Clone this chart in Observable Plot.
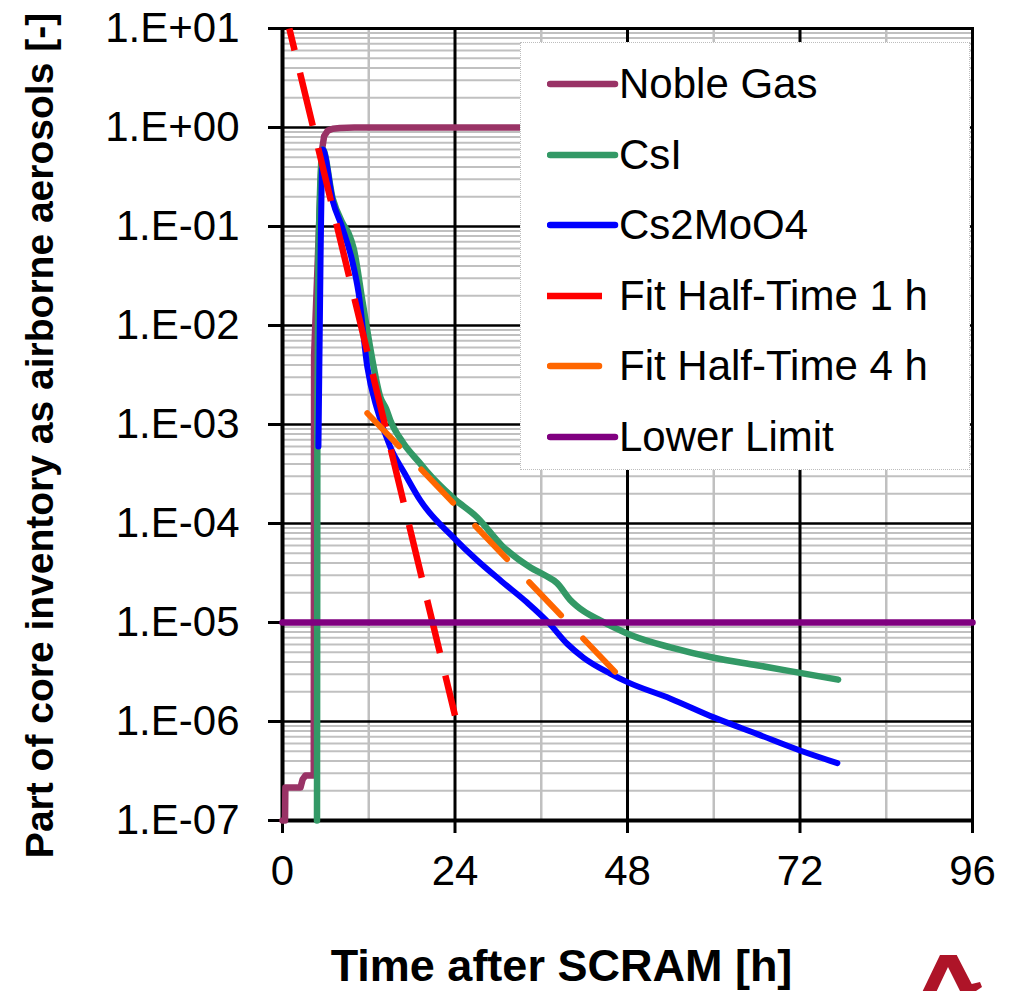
<!DOCTYPE html>
<html>
<head>
<meta charset="utf-8">
<script src="https://cdn.jsdelivr.net/npm/d3@7"></script>
<script src="https://cdn.jsdelivr.net/npm/@observablehq/plot@0.6"></script>
<style>
  html, body { margin: 0; padding: 0; background: #fff; }
  #wrap { position: relative; width: 1013px; height: 991px; overflow: hidden;
          font-family: "Liberation Sans", Arial, sans-serif; }
  #legend { position: absolute; left: 520px; top: 42px; width: 450px; height: 428px;
            background: #fff; border: 1px dotted #bdbdbd; box-sizing: border-box; }
  .item { position: absolute; left: 0; height: 50px; width: 440px; }
  .item svg { position: absolute; left: 26px; top: 20px; }
  .item span { position: absolute; left: 98px; top: 0; font-size: 42px; line-height: 50px;
               color: #000; white-space: nowrap; }
  #logo { position: absolute; left: 0; top: 0; pointer-events: none; }
</style>
</head>
<body>
<div id="wrap">
  <div id="chart"></div>
  <div id="legend"></div>
  <svg id="logo" width="1013" height="991">
    <polygon fill="#ae1428" points="922.7,991 940,955 956.7,955 971.7,984 980,982 982,987 976,991 960,991 948,967 936.7,991"/>
  </svg>
</div>
<script>
// ---- axis ticks / labels ----
const xTicks = [0, 24, 48, 72, 96];
const xMajorGrid = [24, 48, 72];
const xMinorGrid = [12, 36, 60, 84];
const yTicks = [1e-7, 1e-6, 1e-5, 1e-4, 1e-3, 1e-2, 1e-1, 1, 10];
const yTickLabels = ["1.E-07", "1.E-06", "1.E-05", "1.E-04", "1.E-03", "1.E-02", "1.E-01", "1.E+00", "1.E+01"];
const yMajorGrid = [1e-6, 1e-5, 1e-4, 1e-3, 1e-2, 1e-1, 1];
const xTitle = "Time after SCRAM [h]";
const yTitle = "Part of core inventory as airborne aerosols [-]";

// ---- series ----
const seriesNames = ["Noble Gas", "CsI", "Cs2MoO4", "Fit Half-Time 1 h", "Fit Half-Time 4 h", "Lower Limit"];
const seriesColors = ["#993366", "#339966", "#0000ff", "#ff0000", "#ff6600", "#800080"];

const nobleT = [0, 0.35, 0.4, 2.5, 2.8, 3.2, 4.35, 4.4, 5.5, 5.8, 6.3, 7.0, 8.0, 10.0, 24, 48, 77];
const nobleV = [1e-7, 1e-7, 2.15e-7, 2.15e-7, 2.6e-7, 2.85e-7, 2.85e-7, 5e-3, 0.6, 0.82, 0.93, 0.97, 0.99, 1.0, 1.0, 1.0, 1.0];

const csiT = [4.8, 4.85, 5.0, 5.6, 7.0, 8.3, 9.2, 9.9, 11.1, 11.5, 12.5, 13.6, 14.4, 15.0, 16.8, 19.2, 20.0, 23.8, 27.1, 30.5, 34.5, 36.5, 38.2, 40.0, 41.9, 44.2, 48.8, 54, 60, 66, 72, 77.3];
const csiV = [1e-7, 1e-3, 0.05, 0.6, 0.19, 0.11, 0.085, 0.06, 0.018, 0.012, 4.5e-3, 1.9e-3, 1.45e-3, 1.1e-3, 6.5e-4, 4.0e-4, 3.4e-4, 1.8e-4, 1.15e-4, 6.0e-5, 3.6e-5, 3.0e-5, 2.5e-5, 1.7e-5, 1.3e-5, 1.05e-5, 7.3e-6, 5.6e-6, 4.4e-6, 3.7e-6, 3.1e-6, 2.65e-6];

const csmoT = [5.0, 5.3, 5.6, 7.0, 8.3, 9.7, 10.6, 11.8, 13.2, 15.0, 17.0, 19.2, 23.8, 27.0, 30.5, 34.0, 37.0, 39.6, 41.9, 45.6, 48.0, 54, 60, 66, 72, 77.2];
const csmoV = [6e-4, 0.05, 0.6, 0.18, 0.098, 0.045, 0.021, 3.8e-3, 1.4e-3, 5.9e-4, 3.2e-4, 1.7e-4, 7.2e-5, 4.3e-5, 2.6e-5, 1.6e-5, 1.0e-5, 6.1e-6, 4.4e-6, 3.05e-6, 2.5e-6, 1.7e-6, 1.1e-6, 7.5e-7, 5.1e-7, 3.8e-7];

const fit1T = [0.95, 24];
const fit1V = [10, 1.15e-6];

const fit4T = [11.8, 46.6];
const fit4V = [1.3e-3, 3.0e-6];

const limitT = [0, 96];
const limitV = [1e-5, 1e-5];

const rows = (t, v) => t.map((x, i) => ({t: x, v: v[i]}));

// minor grid positions (2..9 of each decade)
const yMinorGrid = d3.range(-7, 1).flatMap(e => d3.range(2, 10).map(m => m * Math.pow(10, e)));

const plot = Plot.plot({
  width: 1013,
  height: 991,
  marginTop: 28,
  marginRight: 41,
  marginBottom: 171,
  marginLeft: 282,
  style: {fontFamily: "Liberation Sans, Arial, sans-serif", fontSize: "42px", background: "white", color: "black"},
  x: {domain: [0, 96]},
  y: {type: "log", domain: [1e-7, 10]},
  marks: [
    Plot.ruleY(yMinorGrid, {stroke: "#c0c0c0", strokeWidth: 2}),
    Plot.ruleX(xMinorGrid, {stroke: "#c0c0c0", strokeWidth: 2.5}),
    Plot.ruleY(yMajorGrid, {stroke: "black", strokeWidth: 2.5}),
    Plot.ruleX(xMajorGrid, {stroke: "black", strokeWidth: 3}),
    Plot.frame({stroke: "black", strokeWidth: 3}),
    Plot.ruleX([0], {stroke: "black", strokeWidth: 4}),
    Plot.ruleY([1e-7], {stroke: "black", strokeWidth: 4}),
    Plot.axisY({ticks: yTicks, tickFormat: d => yTickLabels[yTicks.indexOf(d)], tickSize: 14, tickPadding: 29,
                fontSize: 42, strokeWidth: 3, label: null}),
    Plot.axisX({ticks: xTicks, tickFormat: d => String(d), tickSize: 13, tickPadding: 22,
                fontSize: 42, strokeWidth: 3, label: null}),
    Plot.line(rows(nobleT, nobleV), {x: "t", y: "v", stroke: seriesColors[0], strokeWidth: 6.5, strokeLinejoin: "round", strokeLinecap: "round"}),
    Plot.line(rows(csiT, csiV), {x: "t", y: "v", stroke: seriesColors[1], strokeWidth: 6.5, strokeLinejoin: "round", strokeLinecap: "round", curve: "monotone-x"}),
    Plot.line(rows(csmoT, csmoV), {x: "t", y: "v", stroke: seriesColors[2], strokeWidth: 6, strokeLinejoin: "round", strokeLinecap: "round", curve: "monotone-x"}),
    Plot.line(rows(fit1T, fit1V), {x: "t", y: "v", stroke: seriesColors[3], strokeWidth: 6.5, strokeDasharray: "54.5,23", strokeDashoffset: 32, strokeLinecap: "butt"}),
    Plot.line(rows(fit4T, fit4V), {x: "t", y: "v", stroke: seriesColors[4], strokeWidth: 6, strokeDasharray: "46,32", strokeLinecap: "round"}),
    Plot.line(rows(limitT, limitV), {x: "t", y: "v", stroke: seriesColors[5], strokeWidth: 6.5}),
    Plot.text([xTitle], {frameAnchor: "bottom", dx: -66, dy: 160, lineAnchor: "bottom", textAnchor: "middle",
                         fontSize: 45, fontWeight: "bold", fill: "black"}),
    Plot.text([yTitle], {frameAnchor: "left", rotate: -90, dx: -230, dy: 11, lineAnchor: "bottom", textAnchor: "middle",
                         fontSize: 39, fontWeight: "bold", fill: "black"})
  ]
});
document.getElementById("chart").appendChild(plot);

// ---- legend (HTML overlay) ----
const legend = document.getElementById("legend");
const dashed = [false, false, false, true, true, false];
seriesNames.forEach((name, i) => {
  const item = document.createElement("div");
  item.className = "item";
  item.style.top = (16 + i * 70.6) + "px";
  const w = dashed[i] ? 56 : 72;
  const cap = i === 3 ? "butt" : "round";
  const x1 = cap === "round" ? 3 : 0;
  const x2 = dashed[i] ? (i === 3 ? 55 : 52) : 68;
  item.innerHTML = `<svg width="${w}" height="10"><line x1="${x1}" y1="5" x2="${x2}" y2="5" stroke="${seriesColors[i]}" stroke-width="6.5" stroke-linecap="${cap}"/></svg><span>${name}</span>`;
  legend.appendChild(item);
});
</script>
</body>
</html>
